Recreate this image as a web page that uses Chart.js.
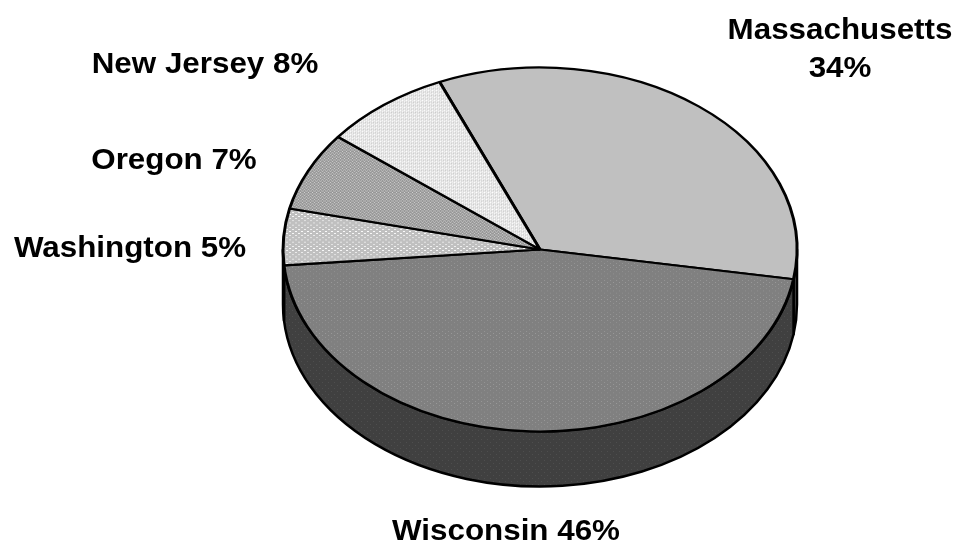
<!DOCTYPE html>
<html><head><meta charset="utf-8">
<script src="https://cdn.jsdelivr.net/npm/chart.js@4/dist/chart.umd.min.js"></script>
<style>html,body{margin:0;padding:0;background:#fff;}canvas{display:block;}</style>
</head><body>
<canvas id="c" width="960" height="546"></canvas>
<script>
// ---- data ----
const categories = ['Massachusetts', 'Wisconsin', 'Washington', 'Oregon', 'New Jersey'];
const shares = [34, 46, 5, 7, 8];
const labelLines = [['Massachusetts', '34%'], ['Wisconsin 46%'], ['Washington 5%'], ['Oregon 7%'], ['New Jersey 8%']];

// ---- styling helpers ----
function makePattern(base, dots, size) {
  const c = document.createElement('canvas');
  c.width = c.height = size;
  const g = c.getContext('2d');
  g.fillStyle = base; g.fillRect(0, 0, size, size);
  dots.forEach(([x, y, w, h, col]) => { g.fillStyle = col; g.fillRect(x, y, w, h); });
  return g.createPattern(c, 'repeat');
}
const topFills = [
  '#c0c0c0',
  makePattern('#808080', [[1,1,1,1,'#9a9a9a'],[4,4,1,1,'#9a9a9a']], 6),
  makePattern('#c0c0c0', [[1,1,2,1,'#ffffff'],[4,4,2,1,'#ffffff']], 6),
  makePattern('#989898', [[0,0,1,1,'#d0d0d0'],[2,2,1,1,'#d0d0d0'],[1,1,1,1,'#b4b4b4'],[3,3,1,1,'#b4b4b4'],[3,1,1,1,'#b4b4b4'],[1,3,1,1,'#b4b4b4']], 4),
  makePattern('#e8e8e8', [[0,0,1,1,'#ffffff'],[2,2,1,1,'#ffffff'],[1,1,1,1,'#cccccc'],[3,3,1,1,'#cccccc'],[3,1,1,1,'#d8d8d8'],[1,3,1,1,'#d8d8d8']], 4)
];
const sideFills = [
  '#505050',
  makePattern('#404040', [[1,1,1,1,'#4e4e4e'],[4,4,1,1,'#4e4e4e']], 6),
  '#646464',
  '#505050',
  '#707070'
];

const pie3d = {
  id: 'pie3d',
  beforeDatasetsDraw(chart, args, opts) {
    const ctx = chart.ctx;
    const meta = chart.getDatasetMeta(0);
    const k = opts.ry / opts.rx;
    const cyT = opts.cy;
    const D = opts.depth;
    meta.data.forEach((arc, i) => {
      const p = arc.getProps(['x', 'startAngle', 'endAngle', 'outerRadius'], true);
      const R = p.outerRadius, cx = p.x;
      for (let m = -1; m <= 1; m++) {
        const lo = Math.max(p.startAngle, 2 * Math.PI * m);
        const hi = Math.min(p.endAngle, 2 * Math.PI * m + Math.PI);
        if (hi - lo <= 1e-6) continue;
        ctx.save();
        ctx.beginPath();
        ctx.ellipse(cx, cyT, R, R * k, 0, lo, hi, false);
        ctx.lineTo(cx + R * Math.cos(hi), cyT + D + R * k * Math.sin(hi));
        ctx.ellipse(cx, cyT + D, R, R * k, 0, hi, lo, true);
        ctx.closePath();
        ctx.fillStyle = sideFills[i];
        ctx.fill();
        ctx.lineWidth = 2.5;
        ctx.lineJoin = 'round';
        ctx.strokeStyle = '#000';
        ctx.stroke();
        ctx.restore();
      }
    });
    const y0 = meta.data[0].y;
    ctx.save();
    ctx.translate(0, cyT);
    ctx.scale(1, k);
    ctx.translate(0, -y0);
  },
  afterDatasetsDraw(chart) {
    chart.ctx.restore();
  },
  afterDraw(chart, args, opts) {
    const ctx = chart.ctx;
    ctx.save();
    ctx.fillStyle = '#000';
    ctx.font = 'bold 30px "Liberation Sans", Arial, sans-serif';
    ctx.textAlign = 'center';
    ctx.textBaseline = 'alphabetic';
    opts.labels.forEach((pos, i) => {
      labelLines[i].forEach((line, j) => {
        ctx.save();
        ctx.translate(pos[0], pos[1] + j * 38);
        ctx.scale(1.045, 1);
        ctx.fillText(line, 0, 0);
        ctx.restore();
      });
    });
    ctx.restore();
  }
};

new Chart(document.getElementById('c'), {
  type: 'pie',
  data: {
    labels: categories,
    datasets: [{
      data: shares,
      backgroundColor: topFills,
      borderColor: '#000',
      borderWidth: 3,
      radius: 257,
      rotation: -23,
      clip: false
    }]
  },
  options: {
    responsive: false,
    animation: false,
    devicePixelRatio: 1,
    layout: { padding: { left: 120, right: 0, top: 0, bottom: 0 } },
    plugins: {
      legend: { display: false },
      tooltip: { enabled: false },
      pie3d: {
        cy: 249.5, rx: 257, ry: 182, depth: 55,
        labels: [[840, 39], [506, 540], [130, 257], [174, 169], [205, 73]]
      }
    }
  },
  plugins: [pie3d]
});
</script>
</body></html>
